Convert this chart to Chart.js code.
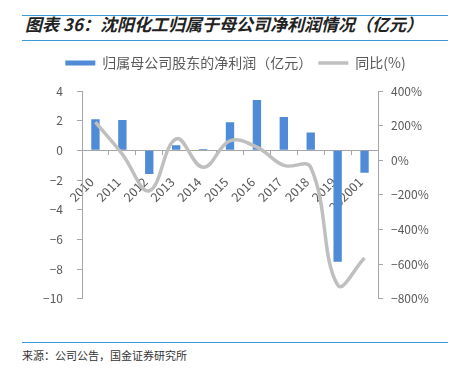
<!DOCTYPE html>
<html>
<head>
<meta charset="utf-8">
<script src="https://cdn.jsdelivr.net/npm/chart.js@4"></script>
<style>
  body { margin: 0; width: 451px; height: 376px; background: #fff; position: relative; overflow: hidden; font-family: "Noto Sans CJK SC", sans-serif; }
  .rule { position: absolute; left: 22px; width: 426px; height: 1px; background: #3b9ad6; }
  .title { position: absolute; left: 25px; top: 11px; font-size: 17px; font-weight: bold; font-style: italic; color: #222; white-space: nowrap; }
  .source { position: absolute; left: 22px; top: 347px; font-size: 11px; color: #333; white-space: nowrap; }
  #wrap { position: absolute; left: 0; top: 50px; width: 451px; height: 270px; }
</style>
</head>
<body>
<div class="rule" style="top:15px"></div>
<div class="title">图表 36：沈阳化工归属于母公司净利润情况（亿元）</div>
<div class="rule" style="top:40px"></div>
<div id="wrap"><canvas id="chart"></canvas></div>
<div class="rule" style="top:342px"></div>
<div class="source">来源：公司公告，国金证券研究所</div>
<script>
const years = ["2010", "2011", "2012", "2013", "2014", "2015", "2016", "2017", "2018", "2019", "202001"];
const profit = [2.1, 2.05, -1.6, 0.35, 0.1, 1.9, 3.4, 2.25, 1.2, -7.5, -1.5]; // 亿元
const growth = [220, 35, -176, 124, -40, 112, 76, -30, -40, -720, -565]; // %

const gray = "#595959";
const minus = v => String(v).replace("-", "\u2212");

// extra room under the legend
const legendGap = {
  id: "legendGap",
  beforeInit(chart) {
    const fit = chart.legend.fit;
    chart.legend.fit = function () {
      fit.bind(chart.legend)();
      this.height += 11;
    };
  }
};

new Chart("chart", {
  data: {
    labels: years,
    datasets: [{
      type: "bar",
      label: "归属母公司股东的净利润（亿元）",
      data: profit,
      backgroundColor: "#4f8bd6",
      barPercentage: 0.31,
      categoryPercentage: 1,
      pointStyle: "rect",
      yAxisID: "y",
      order: 2
    }, {
      type: "line",
      label: "同比(%)",
      data: growth,
      borderColor: "#bfbfbf",
      backgroundColor: "#bfbfbf",
      borderWidth: 3.5,
      pointRadius: 0,
      tension: 0.4,
      pointStyle: "line",
      yAxisID: "y1",
      order: 1
    }]
  },
  options: {
    responsive: true,
    maintainAspectRatio: false,
    animation: false,
    layout: { padding: { top: 0, bottom: 16, left: 20 } },
    plugins: {
      legend: {
        labels: {
          usePointStyle: true,
          pointStyleWidth: 30,
          boxHeight: 5,
          color: gray,
          font: { size: 14, family: "Noto Sans CJK SC" },
          padding: 6,
          sort: (a, b) => a.datasetIndex - b.datasetIndex
        }
      },
      tooltip: { enabled: false }
    },
    scales: {
      x: {
        position: { y: 0 },
        grid: { drawOnChartArea: false, tickLength: 4, color: "#a6a6a6" },
        border: { color: "#a6a6a6" },
        ticks: { color: gray, maxRotation: 45, minRotation: 45, autoSkip: false, padding: 20, labelOffset: -4, font: { size: 12.5, family: "Noto Sans CJK SC" } }
      },
      y: {
        position: "left",
        min: -10, max: 4,
        afterFit(s) { s.width = 62; },
        grid: { drawOnChartArea: false, tickLength: 5, color: "#a6a6a6" },
        border: { color: "#a6a6a6" },
        ticks: { stepSize: 2, color: gray, padding: 14, callback: v => minus(v), font: { size: 12, family: "Noto Sans CJK SC" } }
      },
      y1: {
        position: "right",
        min: -800, max: 400,
        afterFit(s) { s.width = 73; },
        grid: { drawOnChartArea: false, tickLength: 5, color: "#a6a6a6" },
        border: { color: "#a6a6a6" },
        ticks: { stepSize: 200, color: gray, padding: 8, callback: v => minus(v) + "%", font: { size: 12, family: "Noto Sans CJK SC" } }
      }
    }
  },
  plugins: [legendGap]
});
</script>
</body>
</html>
